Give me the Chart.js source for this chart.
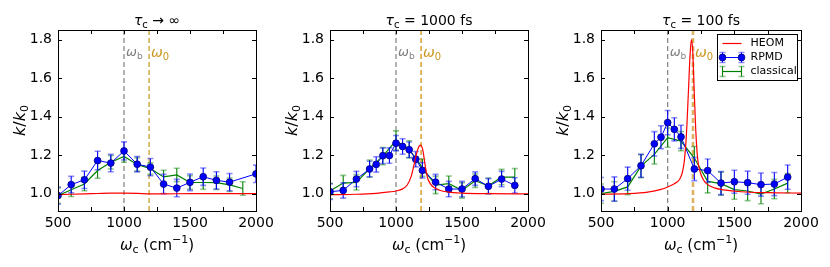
<!DOCTYPE html>
<html>
<head>
<meta charset="utf-8">
<script src="https://cdn.jsdelivr.net/npm/chart.js@4.4.1/dist/chart.umd.min.js"></script>
<style>
  body { margin: 0; background: #fff; }
  #wrap { position: relative; width: 830px; height: 267px; overflow: hidden; }
  canvas { position: absolute; top: 0; }
</style>
</head>
<body>
<div id="wrap">
  <canvas id="c1" width="290" height="267" style="left:0px"></canvas>
  <canvas id="c2" width="290" height="267" style="left:272px"></canvas>
  <canvas id="c3" width="287" height="267" style="left:543px"></canvas>
</div>
<script>
// ---- data ----
const xTickValues = [500, 750, 1000, 1250, 1500, 1750, 2000];
const yTickValues = [1.0, 1.2, 1.4, 1.6, 1.8];
const omegaB = 1000;
const omega0 = 1190;

// tau_c -> infinity
const p1HeomX = [500, 600, 700, 800, 900, 1000, 1100, 1200, 1300, 1500, 1700, 2000];
const p1HeomY = [0.995, 0.997, 0.999, 1.001, 1.003, 1.003, 1.002, 0.999, 0.999, 1.0, 1.0, 1.0];
const p1RpmdX = [500, 600, 700, 800, 900, 1000, 1100, 1200, 1300, 1400, 1500, 1600, 1700, 1800, 2000];
const p1RpmdY = [0.99, 1.047, 1.072, 1.172, 1.159, 1.222, 1.153, 1.138, 1.05, 1.029, 1.059, 1.088, 1.069, 1.06, 1.103];
const p1RpmdErr = [0.045, 0.043, 0.045, 0.048, 0.045, 0.047, 0.04, 0.045, 0.05, 0.045, 0.043, 0.045, 0.045, 0.045, 0.045];
const p1ClassX = [500, 600, 700, 800, 900, 1000, 1100, 1200, 1300, 1400, 1500, 1600, 1700, 1800, 1900];
const p1ClassY = [0.99, 1.02, 1.05, 1.12, 1.163, 1.193, 1.152, 1.13, 1.087, 1.097, 1.058, 1.058, 1.057, 1.046, 1.027];
const p1ClassErr = [0.04, 0.035, 0.035, 0.04, 0.035, 0.03, 0.035, 0.03, 0.035, 0.035, 0.035, 0.035, 0.035, 0.035, 0.035];

// tau_c = 1000 fs
const p2HeomX = [500, 700, 850, 950, 1000, 1050, 1085, 1115, 1140, 1165, 1184, 1202, 1222, 1240, 1260, 1280, 1330, 1400, 1500, 1700, 2000];
const p2HeomY = [0.995, 0.997, 1.002, 1.009, 1.014, 1.025, 1.045, 1.09, 1.16, 1.23, 1.252, 1.23, 1.142, 1.08, 1.052, 1.036, 1.018, 1.008, 1.003, 1.0, 0.999];
const p2RpmdX = [500, 600, 700, 800, 850, 900, 950, 1000, 1050, 1100, 1150, 1200, 1300, 1400, 1500, 1600, 1700, 1800, 1900];
const p2RpmdY = [1.01, 1.017, 1.076, 1.128, 1.152, 1.197, 1.198, 1.262, 1.245, 1.228, 1.179, 1.121, 1.06, 1.024, 1.024, 1.078, 1.038, 1.076, 1.043];
const p2RpmdErr = [0.04, 0.04, 0.04, 0.04, 0.04, 0.04, 0.04, 0.04, 0.04, 0.04, 0.04, 0.04, 0.04, 0.04, 0.04, 0.035, 0.04, 0.04, 0.04];
const p2ClassX = [500, 600, 700, 800, 900, 1000, 1100, 1200, 1300, 1400, 1500, 1600, 1700, 1800, 1900];
const p2ClassY = [1.014, 1.055, 1.059, 1.13, 1.195, 1.276, 1.23, 1.135, 1.045, 1.052, 1.017, 1.067, 1.041, 1.086, 1.086];
const p2ClassErr = [0.04, 0.04, 0.04, 0.045, 0.045, 0.05, 0.045, 0.045, 0.045, 0.04, 0.04, 0.035, 0.04, 0.04, 0.045];

// tau_c = 100 fs
const p3HeomX = [500, 700, 850, 950, 1000, 1050, 1090, 1110, 1125, 1140, 1155, 1168, 1178, 1188, 1198, 1210, 1225, 1245, 1270, 1300, 1350, 1420, 1550, 1750, 2000];
const p3HeomY = [0.997, 1.0, 1.008, 1.022, 1.035, 1.052, 1.075, 1.11, 1.17, 1.3, 1.52, 1.72, 1.8, 1.74, 1.55, 1.34, 1.18, 1.11, 1.07, 1.047, 1.03, 1.02, 1.01, 1.005, 1.003];
const p3RpmdX = [500, 600, 700, 800, 900, 950, 1000, 1050, 1100, 1200, 1300, 1400, 1500, 1600, 1700, 1800, 1900];
const p3RpmdY = [1.024, 1.024, 1.078, 1.145, 1.259, 1.293, 1.369, 1.334, 1.295, 1.128, 1.12, 1.055, 1.062, 1.057, 1.047, 1.05, 1.086];
const p3RpmdErr = [0.06, 0.063, 0.06, 0.06, 0.063, 0.06, 0.063, 0.06, 0.06, 0.06, 0.06, 0.06, 0.06, 0.06, 0.06, 0.06, 0.063];
const p3ClassX = [500, 600, 700, 800, 900, 1000, 1100, 1200, 1300, 1400, 1500, 1600, 1700, 1800, 1900];
const p3ClassY = [1.0, 1.012, 1.035, 1.143, 1.204, 1.291, 1.273, 1.185, 1.064, 1.052, 1.021, 1.014, 0.998, 1.024, 1.055];
const p3ClassErr = [0.05, 0.05, 0.04, 0.06, 0.05, 0.05, 0.05, 0.06, 0.06, 0.06, 0.05, 0.05, 0.05, 0.05, 0.05];

const F = 'DejaVu Sans';

function zip(xs, ys) {
  return xs.map((x, i) => ({ x: x, y: ys[i] }));
}

// draws a row of text pieces (for sub/superscripts)
function drawRuns(ctx, runs, x, y, align) {
  let w = 0;
  runs.forEach(r => { ctx.font = r.font; r.w = ctx.measureText(r.t).width; w += r.w; });
  let cx = align === 'center' ? x - w / 2 : x;
  ctx.textAlign = 'left';
  ctx.textBaseline = 'alphabetic';
  runs.forEach(r => {
    ctx.font = r.font;
    ctx.fillStyle = r.color || '#000';
    ctx.fillText(r.t, cx, y + (r.dy || 0));
    cx += r.w;
  });
}

function vline(ctx, x, top, bottom, color, width, dash) {
  ctx.save();
  ctx.strokeStyle = color;
  ctx.lineWidth = width;
  ctx.setLineDash(dash);
  ctx.beginPath();
  ctx.moveTo(x, top);
  ctx.lineTo(x, bottom);
  ctx.stroke();
  ctx.restore();
}

function errMark(ctx, px, yLo, yHi, color, capColor) {
  ctx.strokeStyle = color;
  ctx.lineWidth = 1.1;
  ctx.beginPath();
  ctx.moveTo(px, yLo);
  ctx.lineTo(px, yHi);
  ctx.stroke();
  ctx.strokeStyle = capColor;
  ctx.lineWidth = 1.6;
  ctx.beginPath();
  ctx.moveTo(px - 3, yLo); ctx.lineTo(px + 3, yLo);
  ctx.moveTo(px - 3, yHi); ctx.lineTo(px + 3, yHi);
  ctx.stroke();
}

const panelDeco = {
  id: 'panelDeco',
  beforeDatasetsDraw(chart, args, opts) {
    const { ctx, chartArea: a, scales: { x } } = chart;
    const xb = x.getPixelForValue(omegaB);
    const x0 = x.getPixelForValue(omega0);
    vline(ctx, xb, a.top, a.bottom, '#808080', 1.2, [5, 3]);
    vline(ctx, x0, a.top, a.bottom, opts.w0Color, opts.w0Width, [5, 3]);
    drawRuns(ctx, [
      { t: 'ω', font: `italic 13px ${F}`, color: '#808080' },
      { t: 'b', font: `9px ${F}`, color: '#808080', dy: 3 }
    ], xb + 2, a.top + 26, 'left');
    drawRuns(ctx, [
      { t: 'ω', font: `italic 14px ${F}`, color: '#c9961f' },
      { t: '0', font: `10px ${F}`, color: '#c9961f', dy: 3 }
    ], x0 + 2, a.top + 27, 'left');
  },
  beforeDatasetDraw(chart, args) {
    const ds = chart.data.datasets[args.index];
    if (!ds.errors) return;
    const { ctx, chartArea: a, scales: { x, y } } = chart;
    ctx.save();
    ctx.beginPath();
    ctx.rect(a.left, a.top, a.right - a.left, a.bottom - a.top);
    ctx.clip();
    ds.data.forEach((p, i) => {
      errMark(ctx, x.getPixelForValue(p.x),
        y.getPixelForValue(p.y - ds.errors[i]), y.getPixelForValue(p.y + ds.errors[i]),
        ds.errColor, ds.capColor);
    });
    ctx.restore();
  },
  afterDraw(chart, args, opts) {
    const { ctx, chartArea: a, scales: { x, y } } = chart;
    ctx.save();
    // frame and inward ticks on all sides
    ctx.strokeStyle = '#000';
    ctx.lineWidth = 1;
    ctx.strokeRect(Math.round(a.left) + 0.5, Math.round(a.top) + 0.5, Math.round(a.right - a.left), Math.round(a.bottom - a.top));
    ctx.beginPath();
    xTickValues.forEach(v => {
      const px = Math.round(x.getPixelForValue(v)) + 0.5;
      ctx.moveTo(px, a.bottom); ctx.lineTo(px, a.bottom - 4);
      ctx.moveTo(px, a.top); ctx.lineTo(px, a.top + 4);
    });
    yTickValues.forEach(v => {
      const py = Math.round(y.getPixelForValue(v)) + 0.5;
      ctx.moveTo(a.left, py); ctx.lineTo(a.left + 4, py);
      ctx.moveTo(a.right, py); ctx.lineTo(a.right - 4, py);
    });
    ctx.stroke();

    const cx = (a.left + a.right) / 2;
    // panel title
    drawRuns(ctx, [
      { t: 'τ', font: `italic 14px ${F}` },
      { t: 'c', font: `10px ${F}`, dy: 3 },
      { t: opts.title, font: `14px ${F}` }
    ], cx, 25, 'center');
    // x axis title
    drawRuns(ctx, [
      { t: 'ω', font: `italic 15px ${F}` },
      { t: 'c', font: `11px ${F}`, dy: 3 },
      { t: ' (cm', font: `15px ${F}` },
      { t: '−1', font: `11px ${F}`, dy: -7 },
      { t: ')', font: `15px ${F}` }
    ], cx, 250, 'center');
    // y axis title
    ctx.save();
    ctx.translate(25, (a.top + a.bottom) / 2);
    ctx.rotate(-Math.PI / 2);
    drawRuns(ctx, [
      { t: 'k', font: `italic 16px ${F}` },
      { t: '/', font: `16px ${F}` },
      { t: 'k', font: `italic 16px ${F}` },
      { t: '0', font: `11px ${F}`, dy: 3 }
    ], 0, 0, 'center');
    ctx.restore();

    if (opts.legend) {
      const bx = Math.round(a.right - 84) + 0.5, by = Math.round(a.top + 4) + 0.5;
      ctx.fillStyle = '#fff';
      ctx.fillRect(bx, by, 80, 46);
      ctx.strokeStyle = '#000';
      ctx.lineWidth = 1;
      ctx.strokeRect(bx, by, 80, 46);
      const x1 = bx + 5, x2 = bx + 24;
      const rows = [by + 9, by + 23, by + 37];
      // HEOM
      ctx.strokeStyle = '#ff0000'; ctx.lineWidth = 1.2;
      ctx.beginPath(); ctx.moveTo(x1, rows[0]); ctx.lineTo(x2, rows[0]); ctx.stroke();
      // RPMD
      [x1, x2].forEach(px => errMark(ctx, px, rows[1] + 5, rows[1] - 5, '#0000ff', 'rgba(0,0,255,0.45)'));
      ctx.strokeStyle = '#0000ff'; ctx.lineWidth = 1;
      ctx.beginPath(); ctx.moveTo(x1, rows[1]); ctx.lineTo(x2, rows[1]); ctx.stroke();
      [x1, x2].forEach(px => {
        ctx.fillStyle = '#0000ff'; ctx.strokeStyle = '#00007a'; ctx.lineWidth = 0.8;
        ctx.beginPath(); ctx.arc(px, rows[1], 3.4, 0, Math.PI * 2); ctx.fill(); ctx.stroke();
      });
      // classical
      [x1, x2].forEach(px => errMark(ctx, px, rows[2] + 5, rows[2] - 5, '#008000', 'rgba(0,128,0,0.45)'));
      ctx.strokeStyle = '#008000'; ctx.lineWidth = 1.2;
      ctx.beginPath(); ctx.moveTo(x1, rows[2]); ctx.lineTo(x2, rows[2]); ctx.stroke();

      ctx.fillStyle = '#000';
      ctx.font = `11px ${F}`;
      ctx.textAlign = 'left';
      ctx.textBaseline = 'middle';
      ctx.fillText('HEOM', bx + 33, rows[0]);
      ctx.fillText('RPMD', bx + 33, rows[1]);
      ctx.fillText('classical', bx + 33, rows[2]);
    }
    ctx.restore();
  }
};

function makePanel(id, p) {
  new Chart(document.getElementById(id), {
    type: 'line',
    data: {
      datasets: [
        {
          label: 'HEOM',
          data: zip(p.heomX, p.heomY),
          borderColor: '#ff0000',
          borderWidth: 1.2,
          pointRadius: 0,
          cubicInterpolationMode: 'monotone',
          clip: 0
        },
        {
          label: 'RPMD',
          data: zip(p.rpmdX, p.rpmdY),
          errors: p.rpmdErr,
          errColor: '#0000ff',
          capColor: 'rgba(0,0,255,0.45)',
          borderColor: '#0000ff',
          borderWidth: 1,
          pointRadius: 3.4,
          pointBackgroundColor: '#0000ff',
          pointBorderColor: '#00007a',
          pointBorderWidth: 0.8,
          clip: 0
        },
        {
          label: 'classical',
          data: zip(p.classX, p.classY),
          errors: p.classErr,
          errColor: '#008000',
          capColor: 'rgba(0,128,0,0.45)',
          borderColor: '#008000',
          borderWidth: 1.2,
          pointRadius: 0,
          clip: 0
        }
      ]
    },
    options: {
      responsive: false,
      animation: false,
      events: [],
      layout: { autoPadding: false, padding: { top: 30, right: p.padRight, left: 0, bottom: 0 } },
      plugins: {
        legend: { display: false },
        tooltip: { enabled: false },
        panelDeco: { title: p.title, legend: p.legend, w0Color: p.w0Color, w0Width: p.w0Width }
      },
      scales: {
        x: {
          type: 'linear',
          min: 500,
          max: 2000,
          afterFit(s) { s.height = 56; s.paddingLeft = 0; s.paddingRight = 0; },
          afterBuildTicks(s) { s.ticks = xTickValues.map(v => ({ value: v })); },
          grid: { display: false, drawTicks: false },
          border: { display: false },
          ticks: {
            padding: 4,
            maxRotation: 0,
            autoSkip: false,
            color: '#000',
            font: { family: F, size: 14 },
            callback: v => (v % 500 === 0 ? String(v) : '')
          }
        },
        y: {
          type: 'linear',
          min: 0.91,
          max: 1.85,
          afterFit(s) { s.width = 58; s.paddingTop = 0; s.paddingBottom = 0; },
          afterBuildTicks(s) { s.ticks = yTickValues.map(v => ({ value: v })); },
          grid: { display: false, drawTicks: false },
          border: { display: false },
          ticks: {
            padding: 6,
            color: '#000',
            font: { family: F, size: 14 },
            callback: v => v.toFixed(1)
          }
        }
      }
    },
    plugins: [panelDeco]
  });
}

makePanel('c1', {
  title: ' → ∞', padRight: 34, legend: false, w0Color: '#c9961f', w0Width: 1.2,
  heomX: p1HeomX, heomY: p1HeomY,
  rpmdX: p1RpmdX, rpmdY: p1RpmdY, rpmdErr: p1RpmdErr,
  classX: p1ClassX, classY: p1ClassY, classErr: p1ClassErr
});
makePanel('c2', {
  title: ' = 1000 fs', padRight: 34, legend: false, w0Color: '#d9a43a', w0Width: 1.6,
  heomX: p2HeomX, heomY: p2HeomY,
  rpmdX: p2RpmdX, rpmdY: p2RpmdY, rpmdErr: p2RpmdErr,
  classX: p2ClassX, classY: p2ClassY, classErr: p2ClassErr
});
makePanel('c3', {
  title: ' = 100 fs', padRight: 29, legend: true, w0Color: 'rgba(215,165,70,0.85)', w0Width: 2.6,
  heomX: p3HeomX, heomY: p3HeomY,
  rpmdX: p3RpmdX, rpmdY: p3RpmdY, rpmdErr: p3RpmdErr,
  classX: p3ClassX, classY: p3ClassY, classErr: p3ClassErr
});
</script>
</body>
</html>
